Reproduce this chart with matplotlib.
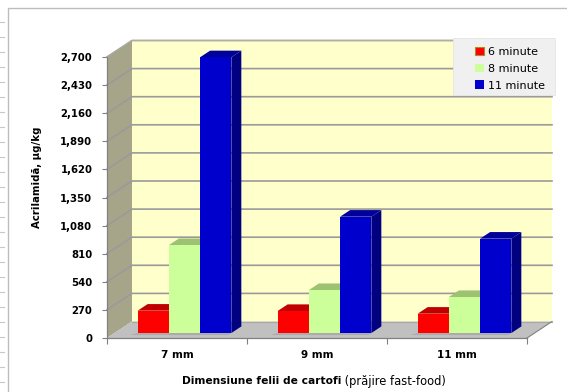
import matplotlib.pyplot as plt
from matplotlib.patches import Polygon, Rectangle
from matplotlib.lines import Line2D

# acrylamide content by slice size and frying time
categories = ['7 mm', '9 mm', '11 mm']
series = ['6 minute', '8 minute', '11 minute']
min6 = [215, 212, 186]
min8 = [845, 413, 346]
min11 = [2650, 1118, 907]
values = [min6, min8, min11]
yticks = [0, 270, 540, 810, 1080, 1350, 1620, 1890, 2160, 2430, 2700]

front_col = ['#FF0000', '#CCFF99', '#0000CC']
top_col = ['#C00000', '#9CC272', '#00009A']
side_col = ['#A00000', '#8DB262', '#000080']

W, H = 567, 392
fig = plt.figure(figsize=(W / 100, H / 100), dpi=100)
fig.patch.set_facecolor('white')

ax = fig.add_axes([107 / W, 54 / H, 420 / W, 281 / H])
ax.set_xlim(0, 3)
ax.set_ylim(0, 2700)
ax.patch.set_visible(False)

# oblique depth of the box, in data units
DX = 25 / 420 * 3
DY = 16.5 / 281 * 2700


def p(x, y, d):
    return (x + d * DX, y + d * DY)


def face(pts, color, z, ec='none', lw=0):
    ax.add_patch(Polygon(pts, closed=True, fc=color, ec=ec, lw=lw,
                         zorder=z, clip_on=False))


def edge(pts, z=2, color='#9A9A9A', lw=1.2):
    xs, ys = zip(*pts)
    ax.add_line(Line2D(xs, ys, color=color, lw=lw, zorder=z, clip_on=False))


# walls and floor
face([p(0, 0, 1), p(3, 0, 1), p(3, 2700, 1), p(0, 2700, 1)], '#FFFFCC', 1)
face([p(0, 0, 0), p(0, 0, 1), p(0, 2700, 1), p(0, 2700, 0)], '#A6A58A', 1)
face([p(0, 0, 0), p(3, 0, 0), p(3, 0, 1), p(0, 0, 1)], '#C0C0C0', 1)

for v in yticks[1:]:
    edge([p(0, v, 0), p(0, v, 1), p(3, v, 1)])
edge([p(0, 0, 1), p(3, 0, 1)], color='#A8A8A8', lw=0.8)
edge([p(3, 0, 0), p(3, 0, 1)], color='#808080', lw=0.8)
edge([p(0, 2700, 0), p(0, 2700, 1), p(3, 2700, 1)], color='#B0B0A0', lw=0.8)

# columns
bw = 0.223
gap = (1 - 3 * bw) / 2
d0, d1 = 0.3, 0.7
z = 5
handles = []
for j, vals in enumerate(values):
    for i, v in enumerate(vals):
        x0 = i + gap + j * bw
        x1 = x0 + bw
        # soft shadow on the floor
        if j == 0:
            face([p(x0 - 0.03, 0, d0 - 0.12), p(x0 + 3 * bw, 0, d0 - 0.12),
                  p(x0 + 3 * bw, 0, d0), p(x0, 0, d0)], '#ABABAB', 3)
        face([p(x1, 0, d0), p(x1, 0, d1), p(x1, v, d1), p(x1, v, d0)],
             side_col[j], z)
        face([p(x0, v, d0), p(x1, v, d0), p(x1, v, d1), p(x0, v, d1)],
             top_col[j], z)
        bx, by = p(x0, 0, d0)
        r = Rectangle((bx, by), bw, v, fc=front_col[j], ec='none',
                      zorder=z, clip_on=False)
        ax.add_patch(r)
        z += 1
    handles.append(Rectangle((0, 0), 1, 1, fc=front_col[j],
                             ec='#B08A20' if j == 0 else 'none', lw=0.8))

# axes
for s in ['top', 'right']:
    ax.spines[s].set_visible(False)
for s in ['left', 'bottom']:
    ax.spines[s].set_color('#808080')
    ax.spines[s].set_linewidth(0.9)
    ax.spines[s].set_zorder(30)

ax.set_yticks(yticks)
ax.set_yticklabels([f'{v:,}' for v in yticks], fontsize=7.3,
                   fontweight='bold')
ax.tick_params(axis='y', length=3.5, color='#808080', pad=7)
ax.set_xticks([0, 1, 2, 3])
ax.set_xticklabels([])
ax.set_xticks([0.5, 1.5, 2.5], minor=True)
ax.set_xticklabels(categories, minor=True, fontsize=7.5, fontweight='bold')
ax.tick_params(axis='x', which='major', length=4, color='#808080')
ax.tick_params(axis='x', which='minor', length=0, pad=9)

fig.text(37 / W, 1 - 177 / H, 'Acrilamidă, µg/kg', rotation=90,
         fontsize=7.3, fontweight='bold', ha='center', va='center')

t1 = fig.text(182 / W, 1 - 381 / H, 'Dimensiune felii de cartofi',
              fontsize=7.7, fontweight='bold', ha='left', va='center')
ax.annotate(' (prăjire fast-food)', xy=(1, 0.5), xycoords=t1,
            fontsize=8.3, ha='left', va='center')

# legend panel
fig.add_artist(Rectangle((453 / W, 1 - 95 / H), 102 / W, 57 / H,
                         transform=fig.transFigure, fc='#F0F0F0',
                         ec='#E4E4E4', lw=0.6, zorder=40))
leg = fig.legend(handles, series, loc='upper left',
                 bbox_to_anchor=(466 / W, 1 - 38 / H), frameon=False,
                 fontsize=8, handlelength=0.8, handleheight=0.8,
                 handletextpad=0.35, labelspacing=0.6, borderpad=0.3)
leg.set_zorder(41)

# chart area border and ruler marks
fig.add_artist(Rectangle((8 / W, -0.1), 1.2, 1.1 - 8 / H,
                         transform=fig.transFigure, fill=False,
                         ec='#BDBDBD', lw=1))
for yy in range(22, H, 15):
    fig.add_artist(Line2D([0, 4 / W], [1 - yy / H, 1 - yy / H],
                          transform=fig.transFigure, color='#C8C8C8', lw=0.8))

fig.savefig('out.png', dpi=100)
